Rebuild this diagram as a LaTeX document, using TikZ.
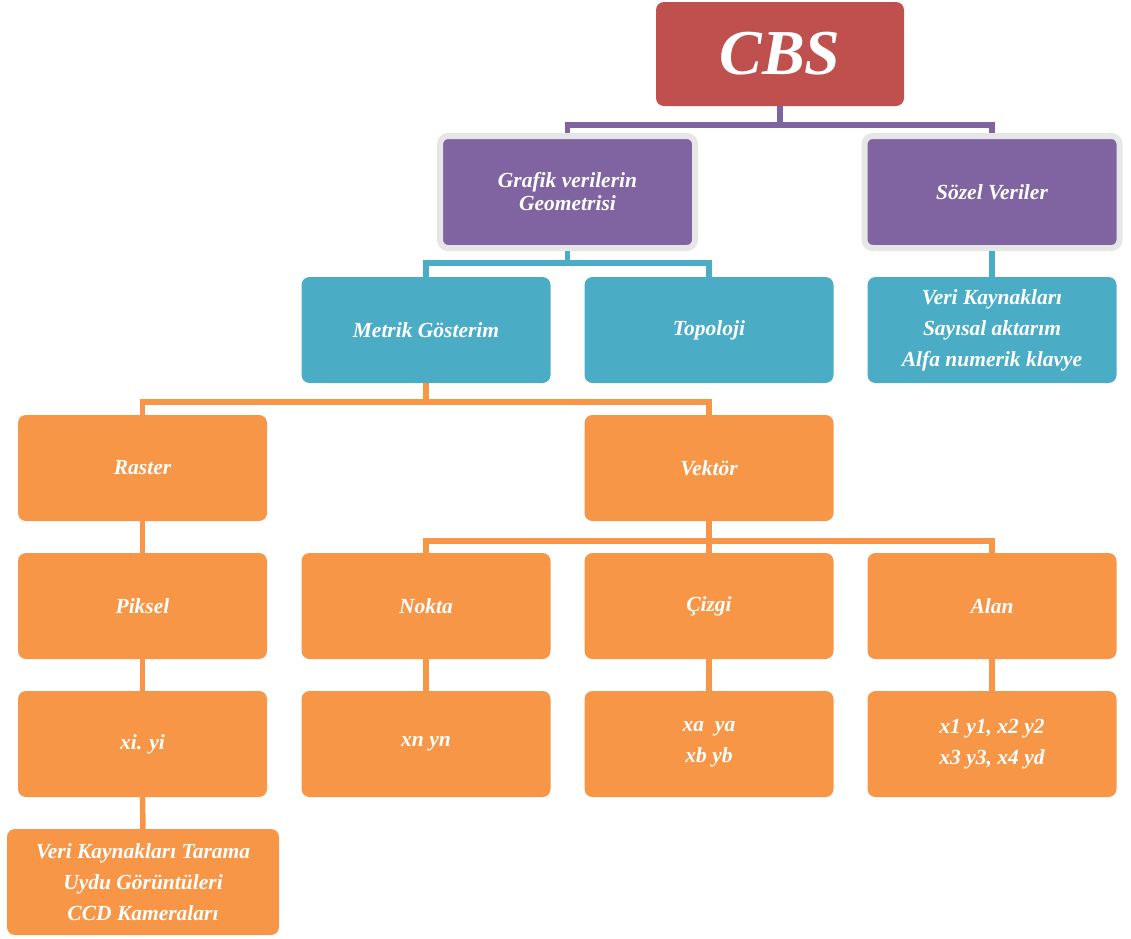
\documentclass[tikz,border=0pt]{standalone}
\usepackage{fontspec}
\setmainfont{Liberation Serif}
\definecolor{cbsred}{HTML}{C0504D}
\definecolor{cbspurple}{HTML}{8064A2}
\definecolor{cbsteal}{HTML}{4BACC6}
\definecolor{cbsorange}{HTML}{F79646}
\definecolor{framegray}{HTML}{E6E6E6}
\tikzset{
  box/.style={rounded corners=8pt, minimum width=249pt, minimum height=106pt,
    inner sep=0pt, outer sep=0pt, text=white, align=center,
    font=\fontsize{21.5}{31}\selectfont\bfseries\itshape},
  redbox/.style={box, fill=cbsred, minimum width=248pt, minimum height=104pt,
    font=\fontsize{64}{70}\selectfont\bfseries\itshape},
  purplebox/.style={box, fill=cbspurple, draw=framegray, line width=6pt,
    minimum width=255pt, minimum height=112pt, outer sep=3pt,
    font=\fontsize{21.5}{23}\selectfont\bfseries\itshape},
  tealbox/.style={box, fill=cbsteal},
  orangebox/.style={box, fill=cbsorange},
  link/.style={line width=5.5pt},
  plink/.style={link, draw=cbspurple},
  tlink/.style={link, draw=cbsteal},
  olink/.style={link, draw=cbsorange},
}
\begin{document}
\begin{tikzpicture}[x=1pt, y=-1pt]
  \useasboundingbox (0,0) rectangle (1131,938);

  % top level
  \node[redbox] (cbs) at (780,54) {CBS};

  % second level
  \node[purplebox] (graf) at (567.5,192) {Grafik verilerin\\Geometrisi};
  \node[purplebox] (sozel) at (992,192) {Sözel Veriler};

  % third level
  \node[tealbox] (metrik) at (426,330) {Metrik Gösterim};
  \node[tealbox] (topo) at (709,330) {Topoloji};
  \node[tealbox] (kaynak) at (992,330) {Veri Kaynakları\\Sayısal aktarım\\Alfa numerik klavye};

  % metric representation
  \node[orangebox] (raster) at (142.5,468) {Raster};
  \node[orangebox] (vektor) at (709,468) {Vektör};

  \node[orangebox] (piksel) at (142.5,606) {Piksel};
  \node[orangebox] (nokta) at (426,606) {Nokta};
  \node[orangebox] (cizgi) at (709,606) {Çizgi};
  \node[orangebox] (alan) at (992,606) {Alan};

  \node[orangebox] (xiyi) at (142.5,744) {xi. yi};
  \node[orangebox] (xnyn) at (426,744) {xn yn};
  \node[orangebox] (xaya) at (709,744) {xa\ \ ya\\xb yb};
  \node[orangebox] (x1y1) at (992,744) {x1 y1, x2 y2\\x3 y3, x4 yd};

  \node[orangebox, minimum width=272pt] (tarama) at (143,882)
    {Veri Kaynakları Tarama\\Uydu Görüntüleri\\CCD Kameraları};

  % connectors
  \draw[plink] (cbs.south) -- (cbs.south |- 0,125) -| (graf.north);
  \draw[plink] (cbs.south |- 0,125) -| (sozel.north);

  \draw[tlink] (graf.south) -- (graf.south |- 0,263) -| (metrik.north);
  \draw[tlink] (graf.south |- 0,263) -| (topo.north);
  \draw[tlink] (sozel.south) -- (kaynak.north);

  \draw[olink] (metrik.south) -- (metrik.south |- 0,402) -| (raster.north);
  \draw[olink] (metrik.south |- 0,402) -| (vektor.north);

  \draw[olink] (vektor.south) -- (vektor.south |- 0,541) -| (nokta.north);
  \draw[olink] (vektor.south |- 0,541) -| (alan.north);
  \draw[olink] (vektor.south) -- (cizgi.north);

  \draw[olink] (raster.south) -- (piksel.north);
  \draw[olink] (piksel.south) -- (xiyi.north);
  \draw[olink] (nokta.south) -- (xnyn.north);
  \draw[olink] (cizgi.south) -- (xaya.north);
  \draw[olink] (alan.south) -- (x1y1.north);
  \draw[olink] (xiyi.south) -- (tarama.north);
\end{tikzpicture}
\end{document}
